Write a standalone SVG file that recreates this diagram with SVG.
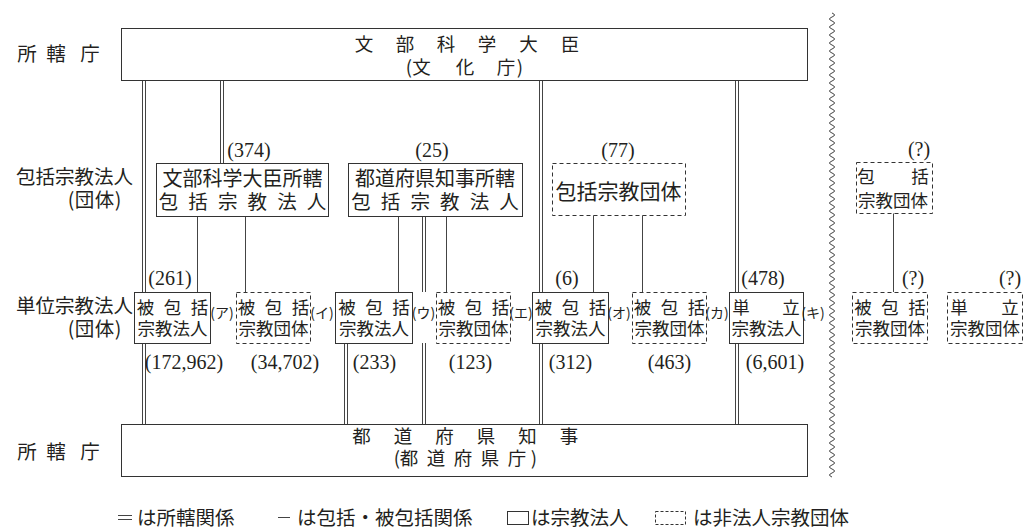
<svg xmlns="http://www.w3.org/2000/svg" width="1029" height="532" viewBox="0 0 1029 532">
<style>
.t{font-family:"Noto Sans CJK JP","Noto Sans CJK SC",sans-serif;fill:#231f20}
.m{text-anchor:middle}
.e{text-anchor:end}
.f20{font-size:19.5px}
.f19{font-size:18.5px}
.f18{font-size:17.5px}
.f13{font-size:14px}
.n{font-family:"Liberation Serif",serif;font-size:20px;fill:#231f20;text-anchor:middle}
.box{fill:#fff;stroke:#333;stroke-width:1}
.dbox{fill:#fff;stroke:#333;stroke-width:1;stroke-dasharray:4 3}
.so{stroke:#444;stroke-width:4;fill:none}
.si{stroke:#fff;stroke-width:2;fill:none}
.ln{stroke:#444;stroke-width:1;fill:none}
</style>
<rect width="1029" height="532" fill="#fff"/>

<g id="row-labels">
<text class="t f20 m" x="27 56 90" y="61">所轄庁</text>
<text class="t f20"><tspan class="e" x="133" y="184">包括宗教法人</tspan><tspan class="m" x="71 84.5 104.5 118" y="207">(団体)</tspan></text>
<text class="t f20"><tspan class="e" x="133" y="313">単位宗教法人</tspan><tspan class="m" x="71 84.5 104.5 118" y="336">(団体)</tspan></text>
<text class="t f20 m" x="27 56 90" y="459">所轄庁</text>
</g>

<g id="connectors">
<path class="so" d="M144,80V424M222,80V163M346,343V424M424,216V292M424,343V424M541,80V424M737,80V424"/>
<path class="si" d="M144,80V424M222,80V163M346,343V424M424,216V292M424,343V424M541,80V424M737,80V424"/>
<path class="ln" d="M197.5,216V292M245.5,216V292M398.5,216V292M446.5,216V292M593.5,215V292M642.5,215V292M893.5,213V292"/>
</g>

<g id="node-monbu">
<rect class="box" x="121.5" y="28.5" width="686" height="52"/>
<text class="t f19 m"><tspan x="364 405 446 487 528.5 570" y="51">文部科学大臣</tspan><tspan x="409 421.5 465 506 520" y="74">(文化庁)</tspan></text>
</g>

<g id="node-todofuken">
<rect class="box" x="121.5" y="424.5" width="686" height="52"/>
<text class="t f19 m"><tspan x="361.5 403 444.5 486 527.5 569" y="443">都道府県知事</tspan><tspan x="397 409 436 463 490 517 534" y="465">(都道府県庁)</tspan></text>
</g>

<g id="node-A">
<rect class="box" x="156.5" y="163.5" width="172" height="53"/>
<text class="t m f20"><tspan x="242.5" y="185.5" style="font-size:20px">文部科学大臣所轄</tspan><tspan x="168.5 198.1 227.7 257.3 286.9 316.5" y="209">包括宗教法人</tspan></text>
</g>
<g id="node-B">
<rect class="box" x="348.5" y="163.5" width="174" height="53"/>
<text class="t m f20"><tspan x="435" y="185.5" style="font-size:20px">都道府県知事所轄</tspan><tspan x="361 390.6 420.2 449.8 479.4 509" y="209">包括宗教法人</tspan></text>
</g>
<g id="node-C">
<rect class="dbox" x="552.5" y="163.5" width="133" height="52"/>
<text class="t m" style="font-size:21px" x="618.5" y="199">包括宗教団体</text>
</g>
<g id="node-R">
<rect class="dbox" x="856.5" y="162.5" width="76" height="51"/>
<text class="t f18 m"><tspan x="866 920" y="183">包括</tspan><tspan x="893" y="207">宗教団体</tspan></text>
</g>

<g id="counts-top">
<text class="n" x="249" y="157">(374)</text>
<text class="n" x="432" y="157">(25)</text>
<text class="n" x="618" y="157">(77)</text>
<text class="n" x="919" y="156">(?)</text>
<text class="n" x="170" y="285">(261)</text>
<text class="n" x="567" y="285">(6)</text>
<text class="n" x="763" y="285">(478)</text>
<text class="n" x="913" y="285">(?)</text>
<text class="n" x="1010" y="285">(?)</text>
</g>

<g id="node-1">
<rect class="box" x="134.5" y="292.5" width="76" height="51"/>
<text class="t f18 m"><tspan x="145.5 172.5 199.5" y="314">被包括</tspan><tspan x="172.5" y="335">宗教法人</tspan></text>
</g>
<g id="node-2">
<rect class="dbox" x="236.5" y="292.5" width="74" height="51"/>
<text class="t f18 m"><tspan x="246.5 273.5 300.5" y="314">被包括</tspan><tspan x="273.5" y="335">宗教団体</tspan></text>
</g>
<g id="node-3">
<rect class="box" x="335.5" y="292.5" width="77" height="51"/>
<text class="t f18 m"><tspan x="347 374 401" y="314">被包括</tspan><tspan x="374" y="335">宗教法人</tspan></text>
</g>
<g id="node-4">
<rect class="dbox" x="436.5" y="292.5" width="74" height="51"/>
<text class="t f18 m"><tspan x="446.5 473.5 500.5" y="314">被包括</tspan><tspan x="473.5" y="335">宗教団体</tspan></text>
</g>
<g id="node-5">
<rect class="box" x="532.5" y="292.5" width="76" height="51"/>
<text class="t f18 m"><tspan x="543.5 570.5 597.5" y="314">被包括</tspan><tspan x="570.5" y="335">宗教法人</tspan></text>
</g>
<g id="node-6">
<rect class="dbox" x="632.5" y="292.5" width="74" height="51"/>
<text class="t f18 m"><tspan x="642.5 669.5 696.5" y="314">被包括</tspan><tspan x="669.5" y="335">宗教団体</tspan></text>
</g>
<g id="node-7">
<rect class="box" x="729.5" y="292.5" width="74" height="51"/>
<text class="t f18 m"><tspan x="741 791" y="314">単立</tspan><tspan x="766.5" y="335">宗教法人</tspan></text>
</g>
<g id="node-8">
<rect class="dbox" x="852.5" y="292.5" width="75" height="51"/>
<text class="t f18 m"><tspan x="863 890 917" y="314">被包括</tspan><tspan x="890" y="335">宗教団体</tspan></text>
</g>
<g id="node-9">
<rect class="dbox" x="947.5" y="292.5" width="75" height="51"/>
<text class="t f18 m"><tspan x="959 1010" y="314">単立</tspan><tspan x="985" y="335">宗教団体</tspan></text>
</g>

<g id="between-labels">
<text class="t f13 m" x="222" y="318">(ア)</text>
<text class="t f13 m" x="322" y="318">(イ)</text>
<text class="t f13 m" x="423.5" y="318">(ウ)</text>
<text class="t f13 m" x="521" y="318">(エ)</text>
<text class="t f13 m" x="619" y="318">(オ)</text>
<text class="t f13 m" x="717" y="318">(カ)</text>
<text class="t f13 m" x="813" y="318">(キ)</text>
</g>

<g id="counts-bottom">
<text class="n" x="184" y="369">(172,962)</text>
<text class="n" x="285" y="369">(34,702)</text>
<text class="n" x="374.5" y="369">(233)</text>
<text class="n" x="470.5" y="369">(123)</text>
<text class="n" x="570.5" y="369">(312)</text>
<text class="n" x="669.5" y="369">(463)</text>
<text class="n" x="775" y="369">(6,601)</text>
</g>

<g id="wavy-divider">
<path class="ln" d="M832,13q5,2 0,4t0,4t0,4t0,4t0,4t0,4t0,4t0,4t0,4t0,4t0,4t0,4t0,4t0,4t0,4t0,4t0,4t0,4t0,4t0,4t0,4t0,4t0,4t0,4t0,4t0,4t0,4t0,4t0,4t0,4t0,4t0,4t0,4t0,4t0,4t0,4t0,4t0,4t0,4t0,4t0,4t0,4t0,4t0,4t0,4t0,4t0,4t0,4t0,4t0,4t0,4t0,4t0,4t0,4t0,4t0,4t0,4t0,4t0,4t0,4t0,4t0,4t0,4t0,4t0,4t0,4t0,4t0,4t0,4t0,4t0,4t0,4t0,4t0,4t0,4t0,4t0,4t0,4t0,4t0,4t0,4t0,4t0,4t0,4t0,4t0,4t0,4t0,4t0,4t0,4t0,4t0,4t0,4t0,4t0,4t0,4t0,4t0,4t0,4t0,4t0,4t0,4t0,4t0,4t0,4t0,4t0,4t0,4t0,4t0,4t0,4t0,4t0,4t0,4t0,4t0,4"/>
</g>

<g id="legend">
<path class="ln" d="M118,515.5H132M118,519.5H132M278,517.5H290"/>
<text class="t f20" x="137" y="525">は所轄関係</text>
<text class="t f20" x="297" y="525">は包括・被包括関係</text>
<rect class="box" x="507.5" y="511.5" width="21" height="13"/>
<text class="t f20" x="531" y="525">は宗教法人</text>
<rect class="dbox" x="655.5" y="511.5" width="30" height="13" style="stroke-dasharray:3 2"/>
<text class="t f20" x="693" y="525">は非法人宗教団体</text>
</g>
</svg>
